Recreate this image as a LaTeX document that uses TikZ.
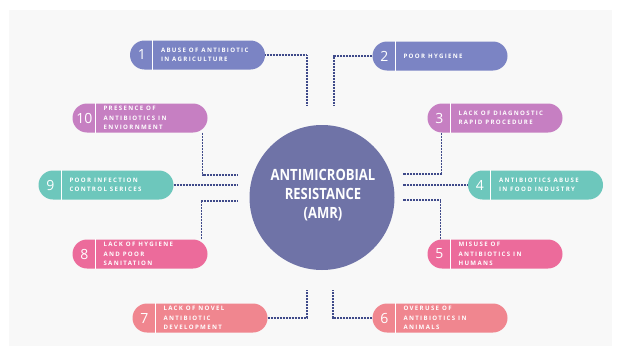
\documentclass[tikz,border=0pt]{standalone}
\usepackage{fontspec}
\setmainfont{Open Sans}
\newfontfamily\tagfont[LetterSpace=22]{Open Sans}
\newfontfamily\hubfont[FakeStretch=0.84]{Open Sans}
\usetikzlibrary{positioning}

\definecolor{bgfill}{HTML}{F8F8F8}
\definecolor{linkblue}{HTML}{3F4A8A}
\definecolor{hubblue}{HTML}{6F73A7}
\definecolor{tagnavy}{HTML}{7B84C4}
\definecolor{tagorchid}{HTML}{C67FC2}
\definecolor{tagteal}{HTML}{6DC7BC}
\definecolor{tagpink}{HTML}{EC6B9B}
\definecolor{tagsalmon}{HTML}{F0868F}

\tikzset{
  pill/.style={rounded corners=14.5pt, minimum width=135pt, minimum height=29pt, inner sep=0pt},
  numtxt/.style={text=white, inner sep=0pt, font=\fontsize{14}{14}\selectfont},
  tagtxt/.style={text=white, align=left, anchor=west, inner sep=0pt, font=\tagfont\bfseries\fontsize{6.1}{9.5}\selectfont},
  link/.style={draw=linkblue, line width=1.3pt, dash pattern=on 1pt off 0.5pt},
}

\begin{document}
\begin{tikzpicture}[x=1pt,y=-1pt]
	\useasboundingbox (0,0) rectangle (621,356);
	\fill[white] (0,0) rectangle (621,356);
	\fill[bgfill] (9,10) rectangle (612,346);

	% hub
	\node[circle, fill=hubblue, minimum size=145pt, inner sep=0pt] (amr) at (322,197.5) {};
	\node[text=white, align=center, font=\hubfont\bfseries\fontsize{15.5}{19}\selectfont] (amrtxt) at (323,195) {ANTIMICROBIAL\\RESISTANCE\\(AMR)};

	% causes
	\foreach \n/\x/\y/\c/\t in {
	    1/197.5/55/tagnavy/{ABUSE OF ANTIBIOTIC\\IN AGRICULTURE},
	    2/440/56/tagnavy/{POOR HYGIENE},
	    10/140/118/tagorchid/{PRESENCE OF\\ANTIBIOTICS IN\\ENVIORNMENT},
	    3/495/118/tagorchid/{LACK OF DIAGNOSTIC\\RAPID PROCEDURE},
	    9/106/185/tagteal/{POOR INFECTION\\CONTROL SERICES},
	    4/535.5/185/tagteal/{ANTIBIOTICS ABUSE\\IN FOOD INDUSTRY},
	    8/140/254/tagpink/{LACK OF HYGIENE\\AND POOR\\SANITATION},
	    5/495/254/tagpink/{MISUSE OF\\ANTIBIOTICS IN\\HUMANS},
	    7/200/318/tagsalmon/{LACK OF NOVEL\\ANTIBIOTIC\\DEVELOPMENT},
	    6/440/318/tagsalmon/{OVERUSE OF\\ANTIBIOTICS IN\\ANIMALS}} {
	    \node[pill, fill=\c] (p\n) at (\x,\y) {};
	    \node[numtxt] (n\n) at ([xshift=12pt]p\n.west) {\n};
	    \draw[white, line width=0.8pt] ([xshift=23pt]p\n.north west) -- ([xshift=23pt]p\n.south west);
	    \node[tagtxt] (t\n) at ([xshift=31pt]p\n.west) {\t};
	}

	% koniec pills
	\coordinate (c1) at (307,105);
	\coordinate (c2) at (334,105);
	\coordinate (c10) at (238,175);
	\coordinate (c9) at (238,185);
	\coordinate (c8) at (238,201);
	\coordinate (c3) at (403,174);
	\coordinate (c4) at (403,185);
	\coordinate (c5) at (403,200);
	\coordinate (c7) at (307,290);
	\coordinate (c6) at (333,290);

	\draw[link] (p1.east) -| (c1);
	\draw[link] (p2.west) -| (c2);
	\draw[link] ([xshift=-5pt]p10.south east) |- (c10);
	\draw[link] (p9.east) -- (c9);
	\draw[link] ([xshift=-6pt]p8.north east) |- (c8);
	\draw[link] ([xshift=14pt]p3.south west) |- (c3);
	\draw[link] (p4.west) -- (c4);
	\draw[link] ([xshift=13pt]p5.north west) |- (c5);
	\draw[link] (p7.east) -| (c7);
	\draw[link] (p6.west) -| (c6);
\end{tikzpicture}
\end{document}
